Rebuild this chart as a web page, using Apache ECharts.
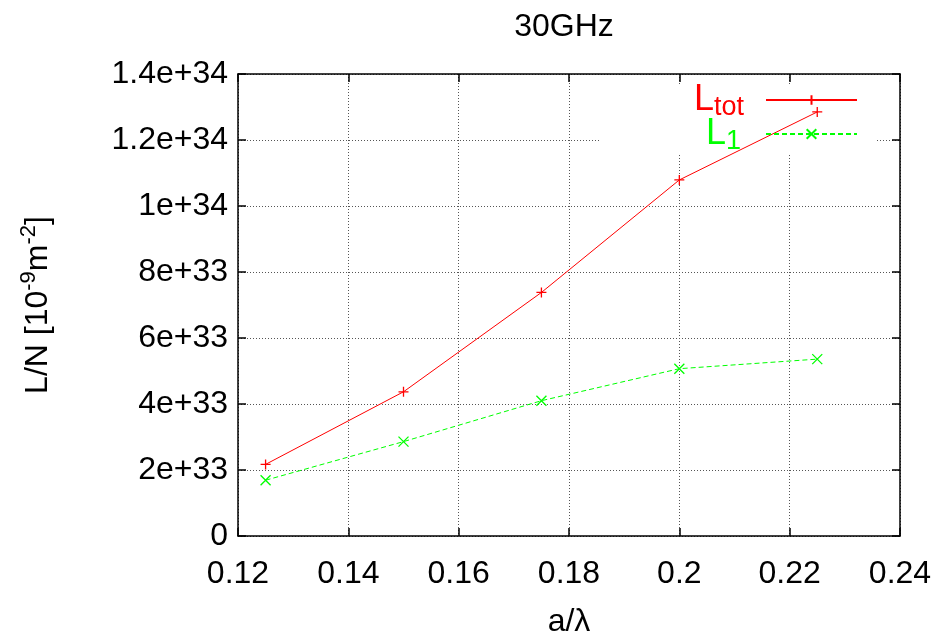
<!DOCTYPE html>
<html>
<head>
<meta charset="utf-8">
<script src="https://cdn.jsdelivr.net/npm/echarts@6/dist/echarts.min.js"></script>
<style>html,body{margin:0;padding:0;background:#fff}#c{width:938px;height:643px}</style>
</head>
<body>
<div id="c"></div>
<script>
var xValues = [0.125, 0.15, 0.175, 0.2, 0.225];
var lTot = [2.17e33, 4.37e33, 7.38e33, 10.79e33, 12.85e33];
var l1 = [1.69e33, 2.86e33, 4.10e33, 5.07e33, 5.36e33];
var xTickLabels = ['0.12', '0.14', '0.16', '0.18', '0.2', '0.22', '0.24'];
var yTickLabels = ['0', '2e+33', '4e+33', '6e+33', '8e+33', '1e+34', '1.2e+34', '1.4e+34'];

var FONT = '"Liberation Sans", Arial, Helvetica, sans-serif';
var FS = 32;
var plusPath = 'path://M0,5L10,5M5,0L5,10';
var crossPath = 'path://M0,0L10,10M0,10L10,0';

function pairs(xs, ys) { return xs.map(function (x, i) { return [x, ys[i]]; }); }
function xLab(v) { return xTickLabels[Math.round((v - 0.12) / 0.02)]; }
function yLab(v) { return yTickLabels[Math.round(v / 2e33)]; }

var chart = echarts.init(document.getElementById('c'), null, {renderer: 'canvas'});
var gridLine = {show: true, lineStyle: {color: '#555', width: 1, type: [1, 2]}};
var option = {
  backgroundColor: '#fff',
  animation: false,
  title: {text: '30GHz', left: 559, top: 6, textAlign: 'center',
    textStyle: {fontFamily: FONT, fontSize: FS, fontWeight: 'normal', color: '#000'}},
  grid: {left: 238, right: 38, top: 74, bottom: 104},
  xAxis: [{
    type: 'value', min: 0.12, max: 0.24, interval: 0.02, z: 0,
    axisLine: {show: true, onZero: false, lineStyle: {color: '#000', width: 1.5}},
    axisTick: {show: true, inside: true, length: 8, lineStyle: {color: '#000', width: 1.5}},
    axisLabel: {formatter: xLab, margin: 22, fontFamily: FONT, fontSize: FS, color: '#000'},
    splitLine: gridLine,
    name: 'a/λ', nameLocation: 'middle', nameGap: 70,
    nameTextStyle: {fontFamily: FONT, fontSize: FS, color: '#000'}
  }, {
    type: 'value', min: 0.12, max: 0.24, interval: 0.02, position: 'top', z: 0,
    axisLine: {show: true, onZero: false, lineStyle: {color: '#000', width: 1.5}},
    axisTick: {show: true, inside: true, length: 8, lineStyle: {color: '#000', width: 1.5}},
    axisLabel: {show: false}, splitLine: {show: false}
  }],
  yAxis: [{
    type: 'value', min: 0, max: 1.4e34, interval: 2e33, z: 0,
    axisLine: {show: true, onZero: false, lineStyle: {color: '#000', width: 1.5}},
    axisTick: {show: true, inside: true, length: 8, lineStyle: {color: '#000', width: 1.5}},
    axisLabel: {formatter: yLab, margin: 10, fontFamily: FONT, fontSize: FS, color: '#000'},
    splitLine: gridLine,
    name: 'L/N [10{sup|-9}m{sup|-2}]', nameLocation: 'middle', nameGap: 180,
    nameTextStyle: {fontFamily: FONT, fontSize: FS, color: '#000',
      rich: {sup: {fontFamily: FONT, fontSize: 22, color: '#000', padding: [0, 0, 18, 0]}}}
  }, {
    type: 'value', min: 0, max: 1.4e34, interval: 2e33, position: 'right', z: 0,
    axisLine: {show: true, onZero: false, lineStyle: {color: '#000', width: 1.5}},
    axisTick: {show: true, inside: true, length: 8, lineStyle: {color: '#000', width: 1.5}},
    axisLabel: {show: false}, splitLine: {show: false}
  }],
  graphic: [{
    type: 'rect', z: 1, silent: true,
    shape: {x: 600, y: 84, width: 277, height: 70},
    style: {fill: '#fff'}
  }],
  legend: [{
    data: [{name: 'Ltot'}], orient: 'vertical', align: 'right', right: 80, top: 82,
    itemWidth: 91, itemHeight: 12, padding: 0,
    formatter: function () { return '{m|L}{s|tot}'; },
    textStyle: {rich: {
      m: {fontFamily: FONT, fontSize: 36, color: '#ff0000'},
      s: {fontFamily: FONT, fontSize: 27, color: '#ff0000', padding: [16, 17, 0, 0]}
    }}
  }, {
    data: [{name: 'L1'}], orient: 'vertical', align: 'right', right: 80, top: 116,
    itemWidth: 91, itemHeight: 12, padding: 0,
    formatter: function () { return '{m|L}{s|1}'; },
    textStyle: {rich: {
      m: {fontFamily: FONT, fontSize: 36, color: '#00ff00'},
      s: {fontFamily: FONT, fontSize: 27, color: '#00ff00', padding: [16, 20, 0, 0]}
    }}
  }],
  series: [{
    name: 'Ltot', type: 'line', z: 3,
    data: pairs(xValues, lTot),
    symbol: plusPath, symbolSize: 10,
    lineStyle: {color: '#ff0000', width: 1},
    itemStyle: {color: 'none', borderColor: '#ff0000', borderWidth: 1.3}
  }, {
    name: 'L1', type: 'line', z: 3,
    data: pairs(xValues, l1),
    symbol: crossPath, symbolSize: 10,
    lineStyle: {color: '#00ff00', width: 1, type: [5, 3]},
    itemStyle: {color: 'none', borderColor: '#00ff00', borderWidth: 1.3}
  }]
};
chart.setOption(option);
</script>
</body>
</html>
